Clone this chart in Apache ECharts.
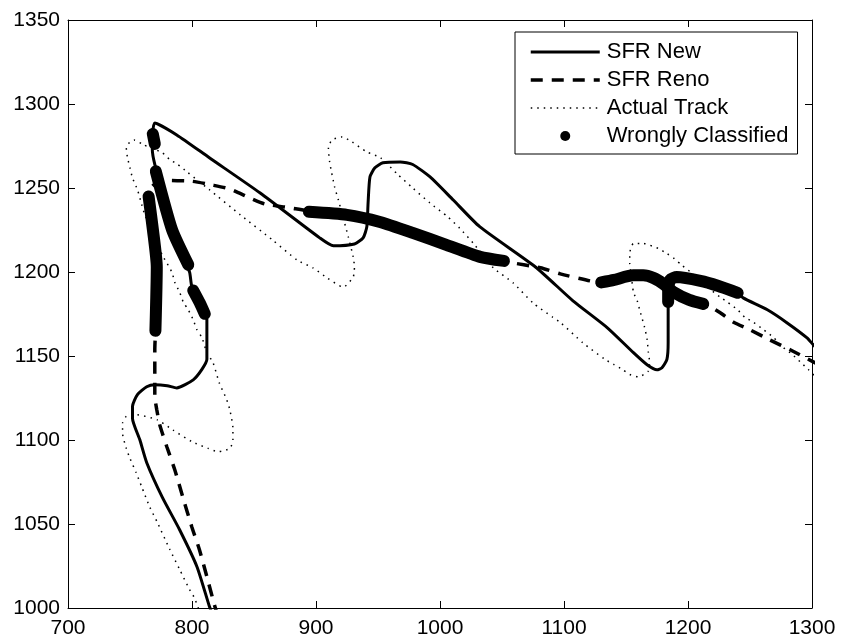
<!DOCTYPE html>
<html>
<head>
<meta charset="utf-8">
<script src="https://cdn.jsdelivr.net/npm/echarts@6.0.0/dist/echarts.min.js"></script>
<style>
  html, body { margin: 0; padding: 0; background: #fff; }
  #main { width: 841px; height: 639px; }
</style>
</head>
<body>
<div id="main"></div>
<script>
// tracks, each point is [x, y]
const sfrNew = [
  [817, 995], [814, 1001], [804, 1024.6], [790, 1046.6], [776, 1066], [763.5, 1086.5], [758, 1100],
  [752, 1113], [752, 1120], [756, 1127], [763.5, 1131.7], [770, 1132.9], [780, 1132.3], [787.7, 1131],
  [801, 1135.8], [808, 1142], [812, 1148], [812, 1171.5], [811, 1177.5], [800, 1191], [798, 1200],
  [784, 1225], [770, 1264], [768, 1272.7], [770, 1288.7], [787.7, 1281.6], [814, 1268], [855, 1247],
  [903, 1220.3], [914, 1215.6], [931, 1216.7], [938, 1220.3], [941, 1227], [942, 1241], [943.5, 1256.6],
  [947.5, 1262], [954, 1265], [968, 1265.5], [978, 1264], [992, 1256.6], [1010.5, 1243], [1032, 1227],
  [1077, 1203], [1107, 1183], [1135, 1166.8], [1156, 1152], [1167, 1144.8], [1175, 1141.8], [1179, 1143],
  [1183, 1148], [1184, 1158], [1184, 1173.3], [1184, 1182], [1184, 1189], [1185.6, 1195.3], [1191, 1197],
  [1210, 1194.7], [1224, 1191.8], [1240, 1187.6], [1244.5, 1184.6], [1264, 1177.5], [1280, 1169.7],
  [1296, 1160.8], [1301, 1156.7], [1310, 1150]
];

const sfrReno = [
  [821, 995], [818.4, 1001], [812, 1018.6], [806, 1034.7], [799.8, 1048.4], [792.6, 1066], [786.1, 1082.3],
  [779.7, 1096], [774, 1109], [771.6, 1118], [770, 1126], [770, 1134], [770, 1154], [770.5, 1164],
  [771.6, 1203], [768, 1227], [765, 1245], [768, 1251], [776, 1254.5], [800, 1254], [816, 1251.8],
  [830, 1249.5], [846.6, 1244.1], [858.8, 1240.5], [879, 1238.2], [894, 1236.4], [925, 1234],
  [951.6, 1229.8], [978, 1223.3], [1005.6, 1216], [1032.3, 1209], [1054, 1206], [1081, 1202.5],
  [1097, 1198.9], [1121, 1194.7], [1130, 1193.8], [1140.4, 1195.3], [1155.8, 1198], [1163.9, 1198],
  [1172, 1196.5], [1180, 1193], [1188, 1188.2], [1201, 1183.4], [1215, 1180.5], [1226, 1175.7],
  [1236.4, 1170.3], [1250, 1165.6], [1266, 1159.6], [1282.4, 1153.7], [1301, 1146.5], [1310, 1143]
];

const actualTrack = [
  [807, 996], [802, 1006], [798, 1011], [790, 1023], [782, 1035], [772, 1051], [766, 1060], [759.5, 1072],
  [755, 1080.5], [750, 1089], [747, 1095], [744, 1104], [744, 1110], [747, 1114], [755, 1115], [772, 1112],
  [784.5, 1106], [800, 1099], [813, 1095], [821, 1093], [830.5, 1095], [833, 1100], [833, 1107],
  [830.5, 1118], [828, 1124], [822, 1134], [817, 1146], [812, 1152], [808, 1161], [804, 1165.6],
  [801, 1171.5], [797, 1177.5], [793, 1182], [790, 1188], [786, 1194], [784, 1199.5], [780, 1205],
  [776, 1210], [772, 1217], [767, 1226], [762, 1234], [759.5, 1240], [756, 1249], [752, 1256], [750, 1262],
  [748, 1268], [747, 1274], [750, 1277.4], [754, 1278.6], [760, 1276], [776, 1271], [782, 1267],
  [788.5, 1264], [796, 1259.6], [814, 1249], [839, 1234], [865, 1219], [885, 1207], [897.5, 1202.5],
  [909, 1196.5], [922, 1191], [930, 1197], [931, 1203], [930, 1209], [926, 1221], [918, 1243],
  [915, 1250.7], [911, 1265.5], [910, 1274], [913, 1278.6], [921, 1280.4], [929, 1277.4], [941, 1271.5],
  [952, 1268], [966, 1258], [978, 1250], [992, 1241], [1006, 1233], [1016, 1226], [1027, 1217],
  [1043, 1202.5], [1059, 1193.5], [1075, 1181.6], [1091, 1173], [1097, 1170], [1115, 1158], [1133, 1148],
  [1140, 1145], [1147, 1142], [1153, 1139], [1160, 1137.6], [1168, 1141], [1169, 1146.5], [1168, 1152.5],
  [1167, 1160], [1165, 1167], [1161, 1177.5], [1159, 1183], [1156, 1188], [1154, 1199.5], [1153, 1205],
  [1153, 1211], [1156, 1217], [1164, 1217], [1169, 1216], [1176, 1214], [1183, 1211], [1189, 1208],
  [1195, 1204], [1202, 1200], [1214, 1192], [1226, 1185], [1232, 1182], [1240, 1177.5], [1246, 1173],
  [1253, 1170], [1261, 1165.6], [1269, 1161], [1277, 1155], [1284, 1151], [1290.5, 1146.5],
  [1297, 1142], [1303, 1137.5]
];

// runs of wrongly classified points (they merge into thick bands)
const wrongA = [[770.5, 1165], [771.6, 1203], [768.5, 1225], [765, 1245]];
const wrongB = [[770.8, 1260], [784, 1225], [797, 1204.3]];
const wrongC = [[801, 1189], [806.3, 1181.6], [810.3, 1175.1]];
const wrongD = [[768.4, 1282.2], [770, 1276.2]];
const wrongE = [[894.3, 1235.8], [925, 1234], [951.6, 1229.8], [978, 1223.3], [1005.6, 1216], [1032.3, 1209], [1051.6, 1206.6]];
const wrongF = [[1130, 1193.8], [1140.4, 1195.3], [1155.8, 1198], [1163.9, 1198], [1172, 1196.5], [1180, 1193], [1188, 1188.2], [1201, 1183.4], [1212.3, 1181]];
const wrongG = [[1184, 1182.2], [1184, 1189.4], [1185.6, 1195.3], [1191, 1197], [1210, 1194.7], [1224, 1191.8], [1240, 1187.6]];
const wrongRuns = [wrongA, wrongB, wrongC, wrongD, wrongE, wrongF, wrongG];

const xRange = [700, 1300, 100];
const yRange = [1000, 1350, 50];

const font = 'Liberation Sans, Arial, Helvetica, sans-serif';

let chart = echarts.init(document.getElementById('main'));

function makeAxis(range, pos, showLabel) {
  return {
    type: 'value',
    position: pos,
    min: range[0],
    max: range[1],
    interval: range[2],
    axisLine: { show: true, onZero: false, lineStyle: { color: '#000', width: 1 } },
    axisTick: { show: true, inside: true, length: 7, lineStyle: { color: '#000', width: 1 } },
    axisLabel: {
      show: showLabel,
      color: '#000',
      fontSize: 21,
      fontFamily: font,
      margin: (pos === 'bottom') ? 10 : 8,
      formatter: v => String(v)
    },
    splitLine: { show: false }
  };
}

function track(name, data, style, z) {
  return {
    name: name,
    type: 'line',
    data: data,
    symbol: 'none',
    smooth: 0.2,
    silent: true,
    z: z,
    lineStyle: style
  };
}

let series = [
  track('Actual Track', actualTrack, { color: '#000', width: 1.5, type: [1.5, 5] }, 2),
  track('SFR Reno', sfrReno, { color: '#000', width: 3.5, type: [12, 9], cap: 'butt' }, 3),
  track('SFR New', sfrNew, { color: '#000', width: 3, join: 'round' }, 4)
];
wrongRuns.forEach(run => {
  series.push(track('Wrongly Classified', run, { color: '#000', width: 12, cap: 'round', join: 'round' }, 5));
});

let option = {
  animation: false,
  backgroundColor: '#fff',
  color: ['#000'],
  grid: { left: 68, right: 29, top: 20, bottom: 31, containLabel: false, outerBoundsMode: 'none' },
  xAxis: [makeAxis(xRange, 'bottom', true), makeAxis(xRange, 'top', false)],
  yAxis: [makeAxis(yRange, 'left', true), makeAxis(yRange, 'right', false)],
  legend: {
    orient: 'vertical',
    left: 515,
    top: 32,
    data: [
      { name: 'SFR New' },
      { name: 'SFR Reno' },
      { name: 'Actual Track' },
      { name: 'Wrongly Classified', icon: 'circle', itemStyle: { color: '#000', borderWidth: 0, opacity: 1 } }
    ],
    itemWidth: 69,
    itemHeight: 10,
    itemGap: 6,
    padding: [9, 9, 7, 14],
    borderColor: '#000',
    borderWidth: 1,
    backgroundColor: '#fff',
    selectedMode: false,
    itemStyle: { opacity: 0 },
    lineStyle: { width: 'inherit' },
    textStyle: { fontFamily: font, fontSize: 22, color: '#000', padding: [0, 0, 0, 2] }
  },
  series: series
};

option && chart.setOption(option);
</script>
</body>
</html>
